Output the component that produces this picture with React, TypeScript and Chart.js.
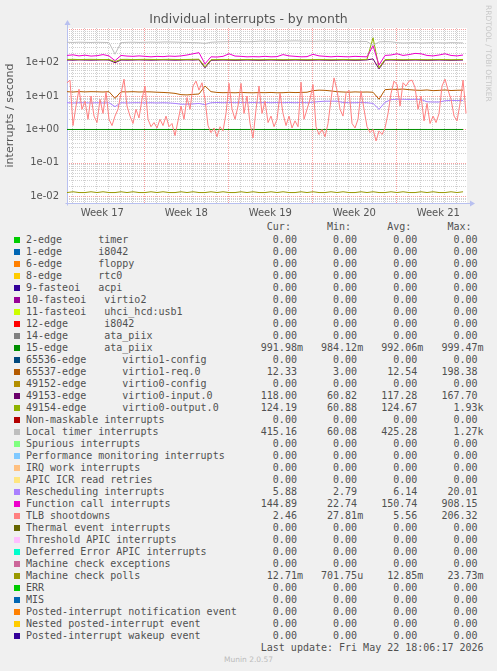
import React, { useEffect, useRef } from 'react';
import { Chart, registerables } from 'chart.js';

Chart.register(...registerables);

// ---------- time axis (days since Monday of Week 17) ----------
const X_START = 0.56;
const X_END = 33.89;
const WEEK_LABELS = ['Week 17', 'Week 18', 'Week 19', 'Week 20', 'Week 21'];
const WEEK_MIDS = [3.5, 10.5, 17.5, 24.5, 31.5];
const WEEK_STARTS = [7, 14, 21, 28];
const DAY_LINES = [1, 2, 3, 4, 5, 6, 8, 9, 10, 11, 12, 13, 15, 16, 17, 18, 19, 20, 22, 23, 24, 25, 26, 27, 29, 30, 31, 32, 33];

// ---------- value axis ----------
const Y_MIN = 0.00617;
const Y_MAX = 1099;
const Y_TICKS = [0.01, 0.1, 1, 10, 100];
const Y_TICK_LABELS = ['1e-02', '1e-01', '1e+00', '1e+01', '1e+02'];

// ---------- series (coarse samples every 12 h, fine every 6 h) ----------
const COARSE_STEP = 0.5;
const FINE_STEP = 0.25;

const irq15Values = [0.992, 0.991, 0.992, 0.993, 0.992, 0.991, 0.992, 0.992, 0.991, 0.992, 0.993, 0.992, 0.992, 0.991, 0.992, 0.993, 0.992, 0.991, 0.992, 0.992, 0.993, 0.992, 0.991, 0.990, 0.992, 0.993, 0.992, 0.991, 0.992, 0.992, 0.993, 0.992, 0.991, 0.992, 0.992, 0.993, 0.992, 0.991, 0.992, 0.992, 0.993, 0.992, 0.991, 0.992, 0.992, 0.993, 0.992, 0.991, 0.992, 0.992, 0.993, 0.990, 0.991, 0.992, 0.993, 0.992, 0.991, 0.992, 0.992, 0.993, 0.992, 0.991, 0.992, 0.992, 0.993, 0.992, 0.992];

const virtio1ReqValues = [13.5, 13.2, 13.6, 13.3, 13.5, 13.4, 13.2, 13.5, 8.5, 13.4, 13.3, 13.5, 13.2, 13.4, 13.3, 13.0, 12.8, 12.5, 12.0, 11.0, 10.8, 11.2, 11.5, 20, 13.5, 12.8, 12.6, 12.7, 12.5, 12.8, 12.6, 12.5, 12.7, 12.6, 12.8, 12.5, 12.6, 12.9, 12.7, 12.8, 13.0, 14.5, 15.0, 14.8, 14.2, 13.5, 13.2, 13.0, 13.3, 13.1, 13.2, 13.0, 8.0, 15.5, 16.0, 15.8, 16.2, 15.5, 15.0, 14.8, 15.2, 14.5, 14.8, 15.2, 14.6, 14.9, 15.0];

const virtio0InputValues = [120, 119, 121, 120, 119, 120, 121, 120, 100, 120, 119, 120, 121, 120, 119, 120, 121, 120, 119, 120, 121, 120, 122, 70, 118, 119, 120, 119, 118, 119, 120, 119, 118, 119, 120, 119, 118, 119, 120, 119, 118, 119, 120, 119, 118, 119, 120, 119, 118, 119, 121, 130, 65, 119, 120, 119, 118, 119, 120, 119, 118, 119, 120, 119, 118, 119, 120];

const virtio0OutputValues = [125, 126, 124, 125, 126, 125, 124, 125, 108, 125, 126, 124, 125, 126, 125, 124, 125, 126, 125, 124, 125, 126, 127, 75, 123, 124, 125, 124, 123, 124, 125, 124, 123, 124, 125, 124, 123, 124, 125, 124, 123, 124, 125, 124, 123, 124, 125, 124, 123, 124, 126, 560, 70, 124, 125, 124, 123, 124, 125, 124, 123, 124, 125, 124, 123, 124, 125];

const localTimerValues = [410, 405, 412, 408, 404, 410, 406, 402, 180, 400, 408, 412, 405, 410, 415, 410, 418, 420, 415, 410, 405, 400, 395, 380, 410, 420, 425, 430, 435, 430, 425, 430, 440, 445, 440, 435, 440, 445, 450, 445, 440, 435, 440, 445, 440, 435, 430, 425, 430, 435, 430, 330, 420, 430, 425, 400, 390, 395, 400, 390, 395, 400, 395, 390, 400, 395, 392];

const reschedValues = [6.3, 6.2, 6.3, 6.3, 6.2, 6.3, 6.2, 6.3, 4.8, 6.3, 6.2, 6.3, 6.3, 6.2, 6.3, 6.2, 6.3, 6.2, 6.0, 5.7, 5.7, 5.8, 6.0, 5.5, 6.3, 6.4, 6.3, 6.4, 6.3, 6.4, 6.3, 6.4, 6.3, 6.4, 6.3, 6.4, 6.3, 6.4, 6.3, 6.4, 6.3, 6.5, 6.8, 7.0, 7.0, 7.0, 6.4, 6.3, 6.3, 6.4, 6.3, 6.0, 4.0, 6.5, 7.8, 8.0, 8.0, 7.9, 8.0, 7.9, 6.7, 6.6, 6.6, 7.2, 7.4, 7.3, 7.4];

const functionCallValues = [165, 172, 160, 168, 158, 162, 175, 160, 115, 165, 158, 155, 160, 155, 150, 155, 152, 158, 155, 160, 170, 185, 200, 92, 150, 148, 155, 185, 158, 155, 150, 152, 150, 155, 150, 152, 175, 160, 155, 150, 152, 178, 160, 155, 150, 155, 152, 150, 155, 152, 150, 320, 85, 165, 170, 185, 165, 175, 190, 185, 165, 160, 170, 185, 165, 160, 170];

const tlbValues = [25, 30, 1.3, 5, 16, 4, 7, 2, 10, 2.5, 1.6, 8, 3, 13, 2, 1.3, 2.5, 4, 12, 32, 5, 2.5, 1.5, 4, 2.2, 8, 20, 2, 1.2, 1.6, 1.1, 2, 1.3, 2.5, 1.2, 1.5, 0.65, 1.8, 5, 2, 9, 4, 20, 28, 15, 25, 8, 1.3, 0.8, 1.1, 0.6, 1.2, 0.9, 3, 24, 4, 2, 5, 24, 3, 10, 1.5, 0.55, 4, 20, 3, 7, 1.6, 2.5, 1.2, 2, 12, 3, 1.3, 2.5, 1.1, 1.8, 1.2, 26, 2, 4, 8, 22, 1.2, 0.7, 1, 0.6, 1.5, 8, 35, 15, 4, 2.5, 12, 15, 1.5, 1.1, 2, 14, 4, 1.2, 0.8, 1, 0.45, 0.9, 0.7, 1.1, 3, 12, 28, 22, 5, 25, 20, 28, 30, 18, 4, 10, 1.8, 6, 1.5, 2.5, 1.6, 3, 20, 32, 15, 8, 2.5, 1.8, 6, 30, 3];

const mcpValues = [0.0127, 0.0134, 0.0127, 0.0127, 0.0134, 0.0127, 0.0134, 0.0127, 0.0127, 0.0134, 0.0127, 0.0134, 0.0127, 0.0127, 0.0134, 0.0127, 0.0134, 0.0127, 0.0127, 0.0134, 0.0127, 0.0134, 0.0127, 0.0127, 0.0134, 0.0127, 0.0134, 0.0127, 0.0127, 0.0134, 0.0127, 0.0134, 0.0127, 0.0127, 0.0134, 0.0127, 0.0134, 0.0127, 0.0127, 0.0134, 0.0127, 0.0134, 0.0127, 0.0127, 0.0134, 0.0127, 0.0134, 0.0127, 0.0127, 0.0134, 0.0127, 0.0134, 0.0127, 0.0127, 0.0134, 0.0127, 0.0134, 0.0127, 0.0127, 0.0134, 0.0127, 0.0134, 0.0127, 0.0127, 0.0134, 0.0127, 0.0134];

// ---------- legend ----------
const LEGEND_LABELS = [
  '2-edge      timer', '1-edge      i8042', '6-edge      floppy', '8-edge      rtc0', '9-fasteoi   acpi',
  '10-fasteoi   virtio2', '11-fasteoi   uhci_hcd:usb1', '12-edge      i8042', '14-edge      ata_piix', '15-edge      ata_piix',
  '65536-edge      virtio1-config', '65537-edge      virtio1-req.0', '49152-edge      virtio0-config', '49153-edge      virtio0-input.0', '49154-edge      virtio0-output.0',
  'Non-maskable interrupts', 'Local timer interrupts', 'Spurious interrupts', 'Performance monitoring interrupts', 'IRQ work interrupts',
  'APIC ICR read retries', 'Rescheduling interrupts', 'Function call interrupts', 'TLB shootdowns', 'Thermal event interrupts',
  'Threshold APIC interrupts', 'Deferred Error APIC interrupts', 'Machine check exceptions', 'Machine check polls', 'ERR',
  'MIS', 'Posted-interrupt notification event', 'Nested posted-interrupt event', 'Posted-interrupt wakeup event',
];
const LEGEND_COLORS = [
  '#00CC00', '#0066B3', '#FF8000', '#FFCC00', '#330099', '#990099', '#CCFF00', '#FF0000', '#808080', '#008F00',
  '#00487D', '#B35A00', '#B38F00', '#6B006B', '#8FB300', '#B30000', '#BEBEBE', '#80FF80', '#80C9FF', '#FFC080',
  '#FFE680', '#AA80FF', '#EE00CC', '#FF8080', '#666600', '#FFBFFF', '#00FFCC', '#CC6699', '#999900', '#00CC00',
  '#0066B3', '#FF8000', '#FFCC00', '#330099',
];
const CUR_VALUES = [0, 0, 0, 0, 0, 0, 0, 0, 0, 0.99198, 0, 12.33, 0, 118.00, 124.19, 0, 415.16, 0, 0, 0, 0, 5.88, 144.89, 2.46, 0, 0, 0, 0, 0.01271, 0, 0, 0, 0, 0];
const MIN_VALUES = [0, 0, 0, 0, 0, 0, 0, 0, 0, 0.98412, 0, 3.00, 0, 60.82, 60.88, 0, 60.08, 0, 0, 0, 0, 2.79, 22.74, 0.02781, 0, 0, 0, 0, 0.00070175, 0, 0, 0, 0, 0];
const AVG_VALUES = [0, 0, 0, 0, 0, 0, 0, 0, 0, 0.99206, 0, 12.54, 0, 117.28, 124.67, 0, 425.28, 0, 0, 0, 0, 6.14, 150.74, 5.56, 0, 0, 0, 0, 0.01285, 0, 0, 0, 0, 0];
const MAX_VALUES = [0, 0, 0, 0, 0, 0, 0, 0, 0, 0.99947, 0, 198.38, 0, 167.70, 1930, 0, 1270, 0, 0, 0, 0, 20.01, 908.15, 206.32, 0, 0, 0, 0, 0.02373, 0, 0, 0, 0, 0];
const LAST_UPDATE = 'Last update: Fri May 22 18:06:17 2026';

// series drawn on the graph (non-zero ones), with their legend index
const SERIES = [
  { idx: 9, values: irq15Values, step: COARSE_STEP },
  { idx: 11, values: virtio1ReqValues, step: COARSE_STEP },
  { idx: 13, values: virtio0InputValues, step: COARSE_STEP },
  { idx: 14, values: virtio0OutputValues, step: COARSE_STEP },
  { idx: 16, values: localTimerValues, step: COARSE_STEP },
  { idx: 21, values: reschedValues, step: COARSE_STEP },
  { idx: 22, values: functionCallValues, step: COARSE_STEP },
  { idx: 23, values: tlbValues, step: FINE_STEP },
  { idx: 28, values: mcpValues, step: COARSE_STEP },
];

function fmtSI(v: number): string {
  let s: string;
  const a = Math.abs(v);
  if (a === 0) s = '0.00 ';
  else if (a >= 1000) s = (v / 1000).toFixed(2) + 'k';
  else if (a >= 1) s = v.toFixed(2) + ' ';
  else if (a >= 0.001) s = (v * 1000).toFixed(2) + 'm';
  else s = (v * 1e6).toFixed(2) + 'u';
  return s.padStart(7, ' ');
}

function legendLine(i: number): string {
  return LEGEND_LABELS[i].padEnd(39, ' ') + fmtSI(CUR_VALUES[i]) + '   ' + fmtSI(MIN_VALUES[i]) + '   ' + fmtSI(AVG_VALUES[i]) + '   ' + fmtSI(MAX_VALUES[i]);
}
const HEADER_LINE = ' '.repeat(40) + 'Cur:' + ' '.repeat(6) + 'Min:' + ' '.repeat(6) + 'Avg:' + ' '.repeat(6) + 'Max:';

const MINOR = 'rgba(150,150,150,0.45)';
const MAJOR = 'rgba(240,80,80,0.55)';
const AXIS = '#B8C0F0';

const rrdGrid = {
  id: 'rrdGrid',
  beforeDraw(chart: any) {
    const { ctx, chartArea: a } = chart;
    ctx.save();
    ctx.fillStyle = '#FFFFFF';
    ctx.fillRect(a.left, a.top, a.right - a.left, a.bottom - a.top);
    ctx.restore();
  },
  beforeDatasetsDraw(chart: any) {
    const { ctx, chartArea: a, scales } = chart;
    const xs = scales.x;
    const ys = scales.y;
    ctx.save();
    ctx.lineWidth = 1;
    ctx.setLineDash([1, 1]);
    const hLine = (v: number, color: string) => {
      if (v <= ys.min || v >= ys.max) return;
      const y = Math.round(ys.getPixelForValue(v)) + 0.5;
      ctx.strokeStyle = color;
      ctx.beginPath();
      ctx.moveTo(a.left, y);
      ctx.lineTo(a.right, y);
      ctx.stroke();
    };
    const vLine = (v: number, color: string) => {
      if (v <= xs.min || v >= xs.max) return;
      const x = Math.round(xs.getPixelForValue(v)) + 0.5;
      ctx.strokeStyle = color;
      ctx.beginPath();
      ctx.moveTo(x, a.top);
      ctx.lineTo(x, a.bottom);
      ctx.stroke();
    };
    for (let d = -3; d <= 3; d++) {
      for (let m = 2; m <= 9; m++) hLine(m * Math.pow(10, d), MINOR);
    }
    DAY_LINES.forEach((v) => vLine(v, MINOR));
    for (let d = -3; d <= 3; d++) hLine(Math.pow(10, d), MAJOR);
    WEEK_STARTS.forEach((v) => vLine(v, MAJOR));
    ctx.setLineDash([]);
    // axes with arrows
    ctx.strokeStyle = AXIS;
    ctx.fillStyle = AXIS;
    const bx = Math.round(a.left) + 0.5;
    const by = Math.round(a.bottom) + 0.5;
    ctx.beginPath();
    ctx.moveTo(bx, by + 2);
    ctx.lineTo(bx, a.top - 4);
    ctx.moveTo(bx - 2, by);
    ctx.lineTo(a.right + 4, by);
    ctx.stroke();
    ctx.beginPath();
    ctx.moveTo(bx - 3, a.top - 3);
    ctx.lineTo(bx + 3, a.top - 3);
    ctx.lineTo(bx, a.top - 8);
    ctx.closePath();
    ctx.fill();
    ctx.beginPath();
    ctx.moveTo(a.right + 3, by - 3);
    ctx.lineTo(a.right + 3, by + 3);
    ctx.lineTo(a.right + 8, by);
    ctx.closePath();
    ctx.fill();
    ctx.restore();
  },
};

export default function App() {
  const canvasRef = useRef<HTMLCanvasElement>(null);

  useEffect(() => {
    const datasets = SERIES.map((s, i) => ({
      label: LEGEND_LABELS[s.idx],
      data: s.values.map((v, k) => ({ x: X_START + k * s.step, y: v })),
      borderColor: LEGEND_COLORS[s.idx],
      backgroundColor: LEGEND_COLORS[s.idx],
      borderWidth: 1,
      pointRadius: 0,
      tension: 0,
      fill: false,
      order: -i,
    }));
    const chart = new Chart(canvasRef.current as HTMLCanvasElement, {
      type: 'line',
      data: { datasets } as any,
      plugins: [rrdGrid],
      options: {
        animation: false,
        responsive: false,
        maintainAspectRatio: false,
        devicePixelRatio: 1,
        layout: { padding: { top: 28, right: 30, left: 0, bottom: 0 } },
        plugins: { legend: { display: false }, tooltip: { enabled: false }, title: { display: false } },
        scales: {
          x: {
            type: 'linear',
            min: X_START,
            max: X_END,
            grid: { display: false, drawTicks: false },
            border: { display: false },
            afterBuildTicks: (s: any) => { s.ticks = WEEK_MIDS.map((v) => ({ value: v })); },
            afterFit: (s: any) => { s.height = 18; },
            ticks: {
              autoSkip: false,
              maxRotation: 0,
              padding: 4,
              color: '#555555',
              font: { family: 'DejaVu Sans', size: 10 },
              callback: (v: any) => { const i = WEEK_MIDS.indexOf(Number(v)); return i >= 0 ? WEEK_LABELS[i] : ''; },
            },
          },
          y: {
            type: 'logarithmic',
            min: Y_MIN,
            max: Y_MAX,
            grid: { display: false, drawTicks: false },
            border: { display: false },
            afterBuildTicks: (s: any) => { s.ticks = Y_TICKS.map((v) => ({ value: v })); },
            afterFit: (s: any) => { s.width = 67; },
            ticks: {
              autoSkip: false,
              padding: 8,
              color: '#555555',
              font: { family: 'DejaVu Sans', size: 10 },
              callback: (v: any) => { const i = Y_TICKS.indexOf(Number(v)); return i >= 0 ? Y_TICK_LABELS[i] : ''; },
            },
            title: {
              display: true,
              text: 'interrupts / second',
              color: '#555555',
              font: { family: 'DejaVu Sans', size: 11 },
              padding: { top: 3.9, bottom: 0 },
            },
          },
        },
      } as any,
    });
    return () => chart.destroy();
  }, []);

  const mono: React.CSSProperties = {
    position: 'absolute', left: 26, top: 0, whiteSpace: 'pre', fontFamily: '"DejaVu Sans Mono", monospace',
    fontSize: 10, lineHeight: '12px', color: '#505050',
  };

  return (
    <div style={{ position: 'fixed', left: 0, top: 0, width: 497, height: 671, background: '#F0F0F0', overflow: 'hidden' }}>
      <canvas ref={canvasRef} width={497} height={221} style={{ position: 'absolute', left: 0, top: 0, width: 497, height: 221 }} />
      <div style={{ position: 'absolute', left: 0, top: 10, width: 497, textAlign: 'center', fontFamily: '"DejaVu Sans"', fontSize: 12.5, lineHeight: '18px', color: '#555555' }}>
        Individual interrupts - by month
      </div>
      <div style={{ position: 'absolute', left: 483, top: 5, writingMode: 'vertical-rl', fontFamily: '"DejaVu Sans"', fontSize: 7.5, lineHeight: '10px', color: '#C8C8C8' }}>
        RRDTOOL / TOBI OETIKER
      </div>
      <div style={{ position: 'absolute', left: 0, top: 221, width: 497, height: 12 }}>
        <span style={mono}>{HEADER_LINE}</span>
      </div>
      {LEGEND_LABELS.map((_, i) => (
        <div key={i} style={{ position: 'absolute', left: 0, top: 234 + i * 12, width: 497, height: 12 }}>
          <span style={{ position: 'absolute', left: 14, top: 3, width: 6, height: 6, background: LEGEND_COLORS[i] }} />
          <span style={mono}>{legendLine(i)}</span>
        </div>
      ))}
      <div style={{ position: 'absolute', left: 0, top: 642, width: 497, height: 12 }}>
        <span style={{ ...mono, left: 26 + 39 * 6.02 }}>{LAST_UPDATE}</span>
      </div>
      <div style={{ position: 'absolute', left: 0, top: 655, width: 497, textAlign: 'center', fontFamily: '"DejaVu Sans"', fontSize: 7.5, lineHeight: '10px', color: '#BBBBBB' }}>
        Munin 2.0.57
      </div>
    </div>
  );
}
